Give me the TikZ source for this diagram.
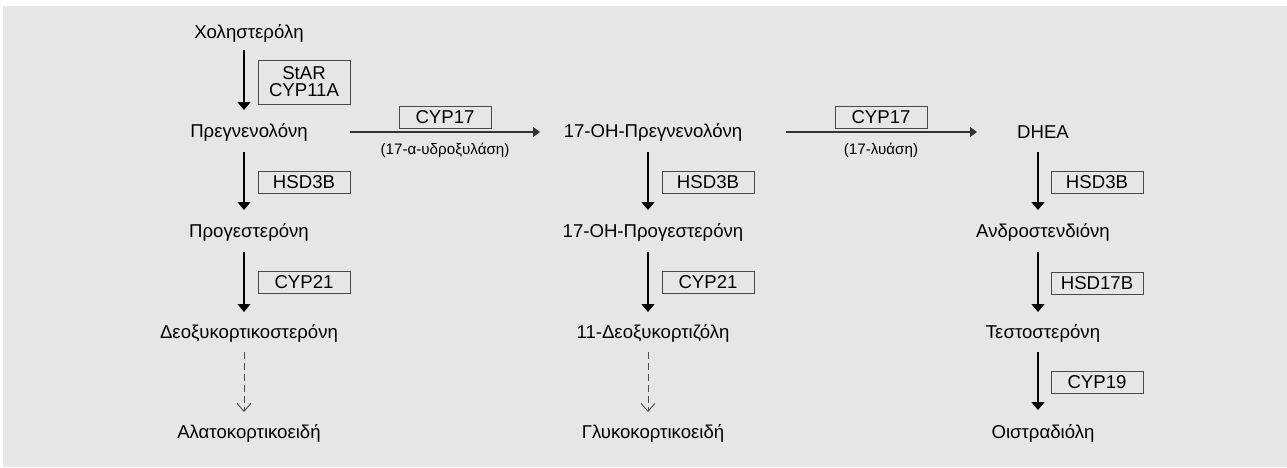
\documentclass[tikz,border=0pt]{standalone}
\usepackage{fontspec}
\setmainfont{Liberation Sans}
\usetikzlibrary{arrows.meta,calc}
\definecolor{panel}{HTML}{E6E6E6}
\definecolor{boxline}{HTML}{4A4A4A}
\begin{document}
\begin{tikzpicture}[x=0.5pt,y=-0.5pt,
  compound/.style={inner sep=0pt, font=\fontsize{9.3}{11}\selectfont, text=black},
  enzyme/.style={draw=boxline, line width=0.5pt, fill=panel, inner sep=0pt,
    minimum width=46pt, minimum height=11pt, font=\fontsize{9.3}{11}\selectfont},
  react/.style={line width=0.55pt, draw=black, -{Triangle[width=6.5pt,length=4pt]}},
  sidereact/.style={line width=0.55pt, draw=black!80, -{Triangle[width=5pt,length=3.5pt]}},
  vague/.style={line width=0.45pt, draw=black!70, dash pattern=on 3.5pt off 2pt,
    -{Straight Barb[width=7pt,length=4pt]}},
  note/.style={inner sep=0pt, font=\fontsize{7.6}{9}\selectfont}]
\useasboundingbox (0,0) rectangle (1287,467);
\fill[white] (0,0) rectangle (1287,467);
\fill[panel] (3,6) rectangle (1287,467);

% mineralocorticoid branch
\node[compound] (chol)    at (249,33)  {Χοληστερόλη};
\node[compound] (preg)    at (249,132) {Πρεγνενολόνη};
\node[compound] (prog)    at (249,232) {Προγεστερόνη};
\node[compound] (doc)     at (249,333) {Δεοξυκορτικοστερόνη};
\node[compound] (mineral) at (249,433) {Αλατοκορτικοειδή};

% glucocorticoid branch
\node[compound] (ohpreg)  at (653,132) {17-OH-Πρεγνενολόνη};
\node[compound] (ohprog)  at (653,232) {17-OH-Προγεστερόνη};
\node[compound] (deoxyc)  at (653,333) {11-Δεοξυκορτιζόλη};
\node[compound] (gluco)   at (653,433) {Γλυκοκορτικοειδή};

% sex steroid branch
\node[compound] (dhea)    at (1043,132) {DHEA};
\node[compound] (andro)   at (1043,232) {Ανδροστενδιόνη};
\node[compound] (testo)   at (1043,333) {Τεστοστερόνη};
\node[compound] (estra)   at (1043,433) {Οιστραδιόλη};

% enzymes
\node[enzyme, minimum height=22pt, align=center,
      font=\fontsize{9.3}{8.5}\selectfont] (star) at (304,82) {StAR\\CYP11A};
\node[enzyme] (hsdA)  at (304,182)  {HSD3B};
\node[enzyme] (cypA)  at (304,282)  {CYP21};
\node[enzyme] (hsdB)  at (708,182)  {HSD3B};
\node[enzyme] (cypB)  at (708,282)  {CYP21};
\node[enzyme] (hsdC)  at (1097,182) {HSD3B};
\node[enzyme] (hsd17) at (1097,283) {HSD17B};
\node[enzyme] (cyp19) at (1097,382) {CYP19};
\node[enzyme] (cyp17a) at (445,117) {CYP17};
\node[enzyme] (cyp17b) at (881,117) {CYP17};
\node[note] (hydrox) at (445,150) {(17-α-υδροξυλάση)};
\node[note] (lyase)  at (881,150) {(17-λυάση)};

% vertical steps
\draw[react] ($(chol)+(-5,17)$)  -- ($(preg)+(-5,-22)$);
\draw[react] ($(preg)+(-5,20)$)  -- ($(prog)+(-5,-22)$);
\draw[react] ($(prog)+(-5,20)$)  -- ($(doc)+(-5,-21)$);
\draw[vague] ($(doc)+(-5,19)$)   -- ($(mineral)+(-5,-21)$);
\draw[react] ($(ohpreg)+(-5,20)$) -- ($(ohprog)+(-5,-22)$);
\draw[react] ($(ohprog)+(-5,20)$) -- ($(deoxyc)+(-5,-21)$);
\draw[vague] ($(deoxyc)+(-5,19)$) -- ($(gluco)+(-5,-21)$);
\draw[react] ($(dhea)+(-5,20)$)  -- ($(andro)+(-5,-22)$);
\draw[react] ($(andro)+(-5,20)$) -- ($(testo)+(-5,-21)$);
\draw[react] ($(testo)+(-5,19)$) -- ($(estra)+(-5,-23)$);

% side chain cleavage steps
\draw[sidereact] ($(preg)+(101,0)$)   -- ($(ohpreg)+(-113,0)$);
\draw[sidereact] ($(ohpreg)+(133,0)$) -- ($(dhea)+(-66,0)$);
\end{tikzpicture}
\end{document}
